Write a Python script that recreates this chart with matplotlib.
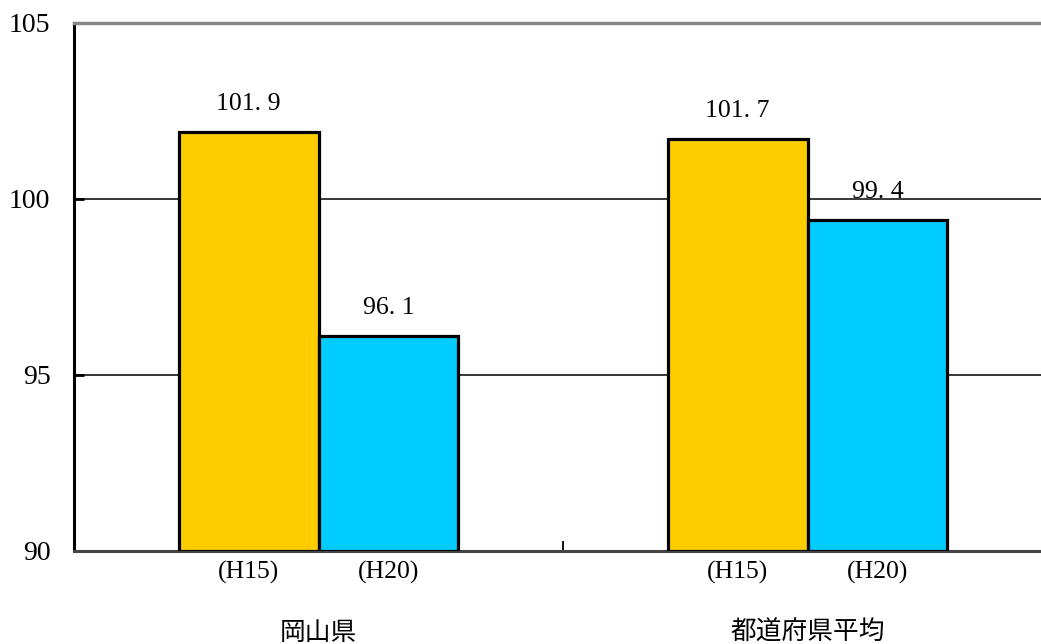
import matplotlib.pyplot as plt
import numpy as np

categories = ["岡山県", "都道府県平均"]
periods = ["(H15)", "(H20)"]
h15_values = [101.9, 101.7]
h20_values = [96.1, 99.4]
colors = ["#FFCC00", "#00CCFF"]

fig = plt.figure(figsize=(10.41, 6.44), dpi=100)
# axes runs slightly past the right edge, like the original
ax = fig.add_axes([74 / 1041, 1 - 551 / 644, 978 / 1041, 528 / 644])

x = np.arange(len(categories))
width = 0.286
series = [h15_values, h20_values]
offsets = [-width / 2, width / 2]

for vals, off, col, per in zip(series, offsets, colors, periods):
    ax.bar(x + off, np.array(vals) - 90, width, bottom=90, color=col,
           edgecolor="black", linewidth=2.3, zorder=3)
    for xi, v in zip(x + off, vals):
        label = f"{v:.1f}".replace(".", ". ")
        ax.annotate(label, (xi, v), xytext=(0, 28), textcoords="offset pixels",
                    ha="center", va="center", fontsize=18.5,
                    family="Liberation Serif", zorder=4)
        ax.annotate(per, (xi, 90), xytext=(0, -21), textcoords="offset pixels",
                    ha="center", va="center", fontsize=18.5,
                    family="Liberation Serif", annotation_clip=False)

for xi, name in zip(x, categories):
    ax.annotate(name, (xi, 90), xytext=(0, -82), textcoords="offset pixels",
                ha="center", va="center", fontsize=18.5,
                family="Noto Sans CJK JP", annotation_clip=False)

ax.set_xlim(-0.5, 1.5)
ax.set_ylim(90, 105)
ax.set_yticks([90, 95, 100, 105])
ax.set_yticklabels(["90", "95", "100", "105"], family="Liberation Serif",
                   fontsize=20)
ax.tick_params(axis="y", direction="in", length=7, width=2, pad=17)
ax.set_xticks([0.5])
ax.set_xticklabels([""])
ax.tick_params(axis="x", direction="in", length=7, width=1.3)

for yv in [95, 100]:
    ax.axhline(yv, color="black", linewidth=1.1, zorder=1)

ax.spines["top"].set_color("#888888")
ax.spines["top"].set_linewidth(2.5)
ax.spines["left"].set_color("black")
ax.spines["left"].set_linewidth(2.2)
ax.spines["bottom"].set_color("#444444")
ax.spines["bottom"].set_linewidth(2.2)
ax.spines["right"].set_visible(False)

plt.savefig("out.png", dpi=100)
